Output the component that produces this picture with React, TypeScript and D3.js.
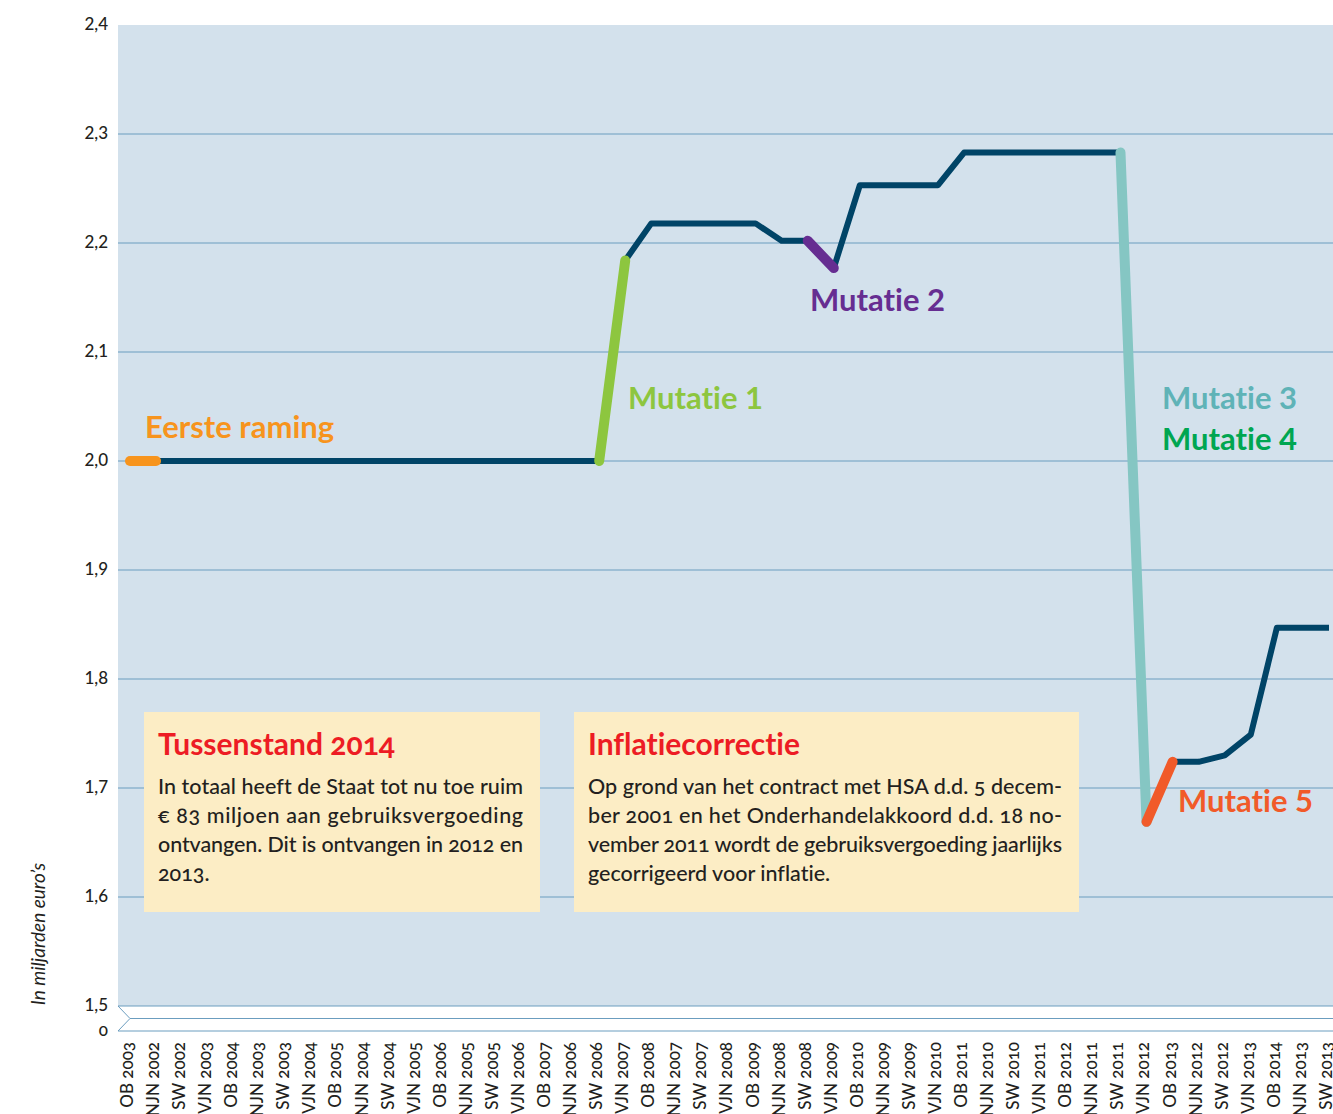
import React from "react";
import * as d3 from "d3";

const X_LABELS = [
  "OB 2003", "NJN 2002", "SW 2002", "VJN 2003",
  "OB 2004", "NJN 2003", "SW 2003", "VJN 2004",
  "OB 2005", "NJN 2004", "SW 2004", "VJN 2005",
  "OB 2006", "NJN 2005", "SW 2005", "VJN 2006",
  "OB 2007", "NJN 2006", "SW 2006", "VJN 2007",
  "OB 2008", "NJN 2007", "SW 2007", "VJN 2008",
  "OB 2009", "NJN 2008", "SW 2008", "VJN 2009",
  "OB 2010", "NJN 2009", "SW 2009", "VJN 2010",
  "OB 2011", "NJN 2010", "SW 2010", "VJN 2011",
  "OB 2012", "NJN 2011", "SW 2011", "VJN 2012",
  "OB 2013", "NJN 2012", "SW 2012", "VJN 2013",
  "OB 2014", "NJN 2013", "SW 2013",
];

// gebruiksvergoeding in miljarden euro's, one per label
const VALUES = [
  2.0, 2.0, 2.0, 2.0, 2.0, 2.0, 2.0, 2.0, 2.0, 2.0, 2.0, 2.0,
  2.0, 2.0, 2.0, 2.0, 2.0, 2.0, 2.0, 2.184, 2.218, 2.218, 2.218, 2.218,
  2.218, 2.202, 2.202, 2.177, 2.253, 2.253, 2.253, 2.253, 2.283, 2.283, 2.283, 2.283,
  2.283, 2.283, 2.283, 1.669, 1.724, 1.724, 1.73, 1.749, 1.847, 1.847, 1.847,
];

const Y_TICKS = [2.4, 2.3, 2.2, 2.1, 2.0, 1.9, 1.8, 1.7, 1.6, 1.5];

const MUTATION_NAMES = ["Eerste raming", "Mutatie 1", "Mutatie 2", "Mutatie 3", "Mutatie 5"];
const MUTATION_FROM = [0, 18, 26, 38, 39];
const MUTATION_TO = [1, 19, 27, 39, 40];

const BOX_TITLES = ["Tussenstand 2014", "Inflatiecorrectie"];
const BOX_LINES = [
  [
    "In totaal heeft de Staat tot nu toe ruim",
    "€ 83 miljoen aan gebruiksvergoeding",
    "ontvangen. Dit is ontvangen in 2012 en",
    "2013.",
  ],
  [
    "Op grond van het contract met HSA d.d. 5 decem-",
    "ber 2001 en het Onderhandelakkoord d.d. 18 no-",
    "vember 2011 wordt de gebruiksvergoeding jaarlijks",
    "gecorrigeerd voor inflatie.",
  ],
];

const WIDTH = 1333;
const HEIGHT = 1114;
const PLOT = { left: 118, top: 25, bottom: 1006, zero: 1031 };

const NAVY = "#004467";
const GRID = "#6b9dbf";
const SEG_COLORS = ["#f7941d", "#8dc63f", "#662d91", "#85c6c3", "#f15a29"];
const FONT = "Lato, 'Open Sans', sans-serif";
const OLDSTYLE = { fontVariantNumeric: "oldstyle-nums", fontVariantLigatures: "none" } as const;
const LINING = { fontVariantNumeric: "lining-nums", fontVariantLigatures: "none" } as const;

// annotation label placement
const LABELS = [
  { text: "Eerste raming", x: 145, y: 438, color: "#f7941d" },
  { text: "Mutatie 1", x: 628, y: 409, color: "#8dc63f" },
  { text: "Mutatie 2", x: 810, y: 311, color: "#662d91" },
  { text: "Mutatie 3", x: 1162, y: 409, color: "#5fb3b7" },
  { text: "Mutatie 4", x: 1162, y: 450, color: "#00a651" },
  { text: "Mutatie 5", x: 1178, y: 812, color: "#f15a29" },
];

const BOXES = [
  { x: 144, w: 396, lineW: 365 },
  { x: 574, w: 505, lineW: 474 },
];

export default function App() {
  const xScale = d3.scaleLinear().domain([0, X_LABELS.length - 1]).range([130, 1329]);
  const yScale = d3.scaleLinear().domain([1.5, 2.4]).range([PLOT.bottom, PLOT.top]);

  const line = d3
    .line<number>()
    .x((_, i) => xScale(i))
    .y((d) => yScale(d));

  const segLine = d3
    .line<number>()
    .x((i) => xScale(i))
    .y((i) => yScale(VALUES[i]));

  return (
    <svg
      width={WIDTH}
      height={HEIGHT}
      style={{ position: "absolute", left: 0, top: 0, background: "#fff" }}
      fontFamily={FONT}
    >
      {/* plot background */}
      <rect x={PLOT.left} y={PLOT.top} width={WIDTH - PLOT.left} height={PLOT.bottom - PLOT.top} fill="#d3e1ec" />

      {Y_TICKS.map((t) => (
        <g key={t}>
          {t < 2.4 && (
            <line x1={PLOT.left} x2={WIDTH} y1={yScale(t)} y2={yScale(t)} stroke={GRID} strokeWidth={1} />
          )}
          <text x={108} y={yScale(t)} dy="0.32em" textAnchor="end" fontSize={17} fontWeight={500} fill="#231f20" style={LINING}>
            {d3.format(".1f")(t).replace(".", ",")}
          </text>
        </g>
      ))}

      {/* axis break */}
      <path
        d={`M${PLOT.left},${PLOT.bottom} L${PLOT.left + 12},${(PLOT.bottom + PLOT.zero) / 2} L${PLOT.left},${PLOT.zero}`}
        fill="none"
        stroke={GRID}
        strokeWidth={1}
      />
      <line x1={PLOT.left + 12} x2={WIDTH} y1={(PLOT.bottom + PLOT.zero) / 2} y2={(PLOT.bottom + PLOT.zero) / 2} stroke={GRID} />
      <line x1={PLOT.left} x2={WIDTH} y1={PLOT.zero} y2={PLOT.zero} stroke={GRID} />
      <text x={108} y={PLOT.zero} dy="0.32em" textAnchor="end" fontSize={17} fontWeight={500} fill="#231f20" style={OLDSTYLE}>
        0
      </text>

      <text
        transform={`translate(45,934) rotate(-90)`}
        textAnchor="middle"
        fontSize={19}
        fontStyle="italic"
        fill="#231f20"
      >
        In miljarden euro’s
      </text>

      {/* x labels (cut off at the bottom edge, as in the original) */}
      {X_LABELS.map((l, i) => (
        <text
          key={l}
          transform={`translate(${xScale(i) - 3},1042) rotate(-90)`}
          textAnchor="end"
          dy="0.35em"
          fontSize={17}
          fontWeight={500}
          fill="#231f20"
          style={OLDSTYLE}
        >
          {l}
        </text>
      ))}

      {/* main line */}
      <path d={line(VALUES) ?? ""} fill="none" stroke={NAVY} strokeWidth={6} strokeLinejoin="round" />

      {/* mutations */}
      {MUTATION_NAMES.map((m, k) => (
        <path
          key={m}
          d={segLine([MUTATION_FROM[k], MUTATION_TO[k]]) ?? ""}
          fill="none"
          stroke={SEG_COLORS[k]}
          strokeWidth={10}
          strokeLinecap="round"
        />
      ))}

      {LABELS.map((l) => (
        <text key={l.text} x={l.x} y={l.y} fontSize={31} fontWeight={700} fill={l.color} style={LINING}>
          {l.text}
        </text>
      ))}

      {/* text boxes */}
      {BOXES.map((b, k) => (
        <g key={k}>
          <rect x={b.x} y={712} width={b.w} height={200} fill="#fcedc5" />
          <text x={b.x + 14} y={755} fontSize={30} fontWeight={700} fill="#ed1c24" style={OLDSTYLE}>
            {BOX_TITLES[k]}
          </text>
          {BOX_LINES[k].map((t, j) => (
            <text
              key={j}
              x={b.x + 14}
              y={794 + j * 29}
              fontSize={21.5}
              fontWeight={500}
              fill="#231f20"
              textLength={j < 3 ? b.lineW : undefined}
              lengthAdjust="spacing"
              style={OLDSTYLE}
            >
              {t}
            </text>
          ))}
        </g>
      ))}
    </svg>
  );
}
